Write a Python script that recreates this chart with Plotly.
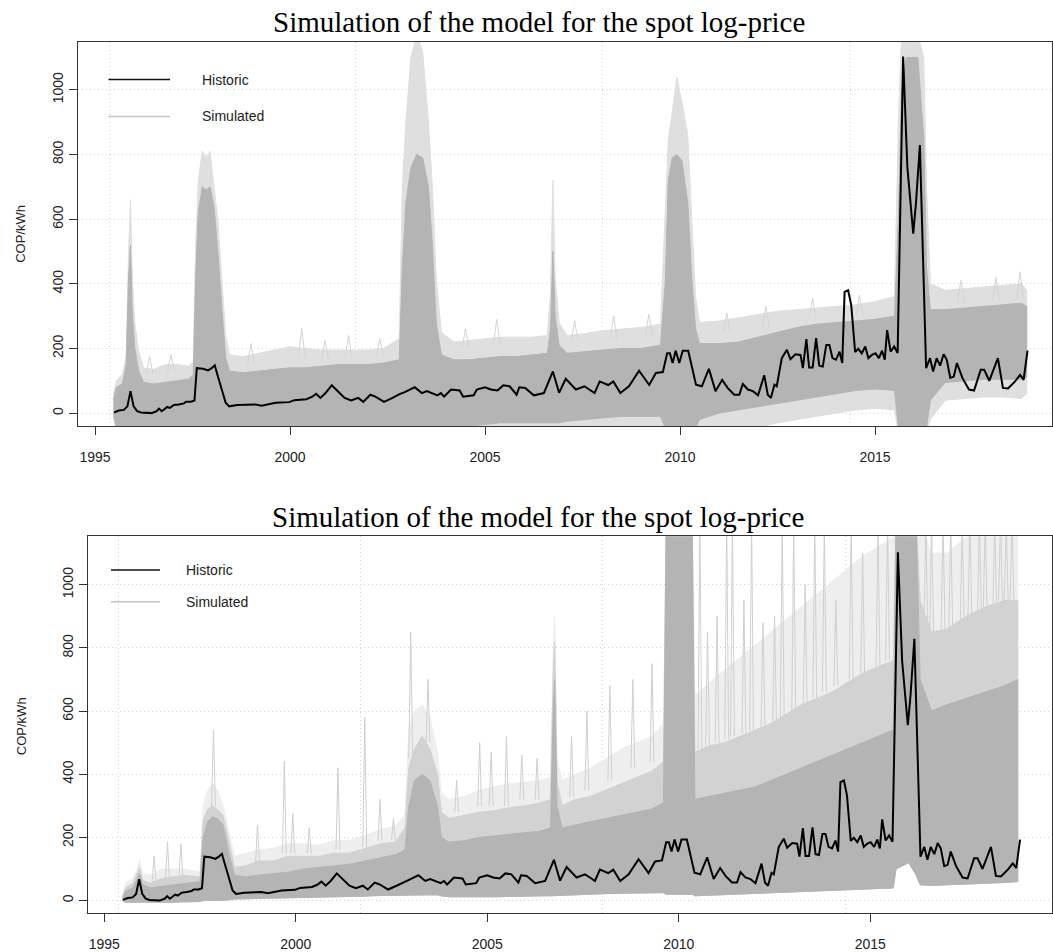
import plotly.graph_objects as go

# ---------------- data ----------------
hist_year = [1995.49, 1995.61, 1995.74, 1995.83, 1995.91, 1995.99, 1996.08, 1996.18, 1996.45, 1996.58,
             1996.64, 1996.71, 1996.78, 1996.85, 1996.92, 1997.02, 1997.15, 1997.28, 1997.33, 1997.46,
             1997.55, 1997.61, 1997.77, 1997.90, 1997.99, 1998.07, 1998.15, 1998.26, 1998.35, 1998.44,
             1998.65, 1999.10, 1999.27, 1999.63, 1999.98, 2000.11, 2000.25, 2000.42, 2000.56, 2000.67,
             2000.78, 2000.91, 2001.07, 2001.22, 2001.40, 2001.57, 2001.75, 2001.88, 2002.06, 2002.19,
             2002.41, 2002.63, 2002.81, 2002.94, 2003.20, 2003.38, 2003.51, 2003.78, 2003.87, 2003.95,
             2004.13, 2004.35, 2004.44, 2004.71, 2004.79, 2005.00, 2005.15, 2005.32, 2005.47, 2005.63,
             2005.81, 2005.88, 2006.03, 2006.25, 2006.51, 2006.74, 2006.90, 2007.07, 2007.33, 2007.55,
             2007.68, 2007.81, 2007.94, 2008.16, 2008.29, 2008.47, 2008.69, 2008.95, 2009.21, 2009.38,
             2009.56, 2009.67, 2009.74, 2009.81, 2009.89, 2009.98, 2010.07, 2010.21, 2010.41, 2010.56,
             2010.74, 2010.91, 2011.08, 2011.22, 2011.39, 2011.52, 2011.61, 2011.74, 2011.87, 2012.00,
             2012.16, 2012.25, 2012.33, 2012.42, 2012.48, 2012.61, 2012.74, 2012.83, 2012.96, 2013.09,
             2013.15, 2013.24, 2013.31, 2013.40, 2013.49, 2013.57, 2013.66, 2013.75, 2013.83, 2013.91,
             2014.00, 2014.09, 2014.16, 2014.22, 2014.31, 2014.39, 2014.49, 2014.57, 2014.66, 2014.75,
             2014.83, 2014.92, 2015.01, 2015.10, 2015.18, 2015.25, 2015.31, 2015.40, 2015.49, 2015.58,
             2015.72, 2015.83, 2015.98, 2016.05, 2016.15, 2016.31, 2016.41, 2016.49, 2016.58, 2016.67,
             2016.76, 2016.84, 2016.93, 2017.02, 2017.10, 2017.24, 2017.41, 2017.54, 2017.71, 2017.80,
             2017.93, 2018.06, 2018.15, 2018.28, 2018.41, 2018.59, 2018.72, 2018.81, 2018.91]
hist_value = [2, 8, 10, 21, 68, 21, 6, 2, 0, 6,
              14, 6, 12, 19, 16, 25, 27, 30, 35, 35,
              39, 139, 137, 132, 139, 148, 114, 68, 32, 21,
              25, 27, 23, 32, 34, 40, 42, 43, 50, 60,
              47, 62, 86, 68, 47, 39, 47, 35, 57, 51,
              35, 47, 59, 65, 80, 62, 68, 55, 62, 51,
              73, 70, 51, 55, 73, 80, 73, 70, 86, 83,
              57, 80, 78, 55, 62, 129, 63, 106, 73, 83,
              73, 62, 98, 87, 98, 62, 83, 131, 87, 124,
              127, 185, 185, 155, 193, 155, 193, 193, 88, 83,
              137, 68, 103, 78, 57, 57, 90, 73, 68, 55,
              117, 57, 47, 88, 83, 170, 196, 167, 182, 180,
              139, 229, 141, 141, 232, 147, 144, 211, 211, 170,
              165, 190, 155, 375, 380, 334, 189, 199, 185, 206,
              170, 180, 185, 170, 193, 165, 257, 190, 206, 186,
              1103, 760, 555, 650, 829, 139, 170, 129, 170, 147,
              182, 165, 109, 113, 155, 109, 73, 70, 134, 134,
              100, 139, 170, 78, 76, 98, 118, 103, 193]

# Top panel: envelope of the simulated paths (light = sparse lines, dense = solid mass)
top_year = [1995.47, 1995.55, 1995.70, 1995.80, 1995.86, 1995.91, 1995.95, 1996.02, 1996.12, 1996.25,
            1996.50, 1996.80, 1997.10, 1997.40, 1997.52, 1997.58, 1997.65, 1997.75, 1997.85, 1997.95,
            1998.05, 1998.15, 1998.25, 1998.35, 1998.45, 1998.80, 1999.20, 1999.60, 2000.00, 2000.40,
            2000.80, 2001.20, 2001.60, 2002.00, 2002.40, 2002.80, 2002.88, 2002.97, 2003.10, 2003.25,
            2003.40, 2003.55, 2003.65, 2003.75, 2003.88, 2004.20, 2004.60, 2005.00, 2005.40, 2005.80,
            2006.20, 2006.60, 2006.68, 2006.74, 2006.80, 2006.90, 2007.10, 2007.50, 2008.00, 2008.50,
            2009.00, 2009.50, 2009.62, 2009.70, 2009.80, 2009.92, 2010.05, 2010.20, 2010.30, 2010.40,
            2010.50, 2011.00, 2011.50, 2012.00, 2012.50, 2013.00, 2013.50, 2014.00, 2014.50, 2015.00,
            2015.50, 2015.60, 2015.68, 2015.80, 2016.10, 2016.25, 2016.32, 2016.42, 2016.80, 2017.30,
            2017.80, 2018.30, 2018.75, 2018.89]
top_lo_light = [-10, -60, -60, -60, -60, -60, -60, -60, -60, -60,
                -60, -60, -60, -60, -60, -60, -60, -60, -60, -60,
                -60, -60, -60, -60, -60, -60, -60, -60, -60, -60,
                -60, -60, -60, -60, -60, -60, -60, -60, -60, -60,
                -60, -60, -60, -60, -60, -60, -60, -60, -60, -60,
                -60, -60, -60, -60, -60, -60, -60, -60, -60, -60,
                -60, -60, -60, -60, -60, -60, -60, -60, -60, -60,
                -60, -60, -60, -45, -30, -20, -10, 0, 10, 15,
                10, -60, -60, -60, -60, -60, -60, -20, 40, 45,
                50, 50, 45, 60]
top_lo_dense = [-5, -45, -45, -45, -45, -45, -45, -45, -45, -45,
                -45, -45, -45, -45, -45, -45, -45, -45, -45, -45,
                -45, -45, -45, -45, -45, -45, -45, -45, -45, -45,
                -45, -45, -45, -45, -45, -45, -45, -45, -45, -45,
                -45, -45, -45, -45, -45, -40, -40, -35, -30, -30,
                -30, -30, -30, -30, -30, -30, -25, -20, -15, -10,
                -10, -10, -45, -45, -45, -45, -45, -45, -45, -45,
                -20, 0, 10, 20, 30, 40, 50, 60, 70, 75,
                70, -45, -45, -45, -45, -45, -45, 40, 95, 100,
                105, 105, 105, 110]
top_hi_dense = [40, 80, 90, 150, 420, 520, 330, 200, 130, 95,
                90, 95, 100, 105, 120, 420, 620, 700, 690, 700,
                640, 500, 330, 170, 130, 125, 130, 135, 140, 140,
                145, 150, 150, 150, 155, 165, 450, 650, 760, 800,
                790, 700, 520, 280, 180, 165, 165, 170, 175, 175,
                180, 185, 260, 500, 300, 210, 185, 190, 195, 200,
                200, 210, 400, 720, 790, 800, 780, 650, 420, 260,
                215, 215, 220, 235, 250, 265, 275, 280, 285, 290,
                300, 600, 1000, 1100, 1100, 850, 450, 320, 320, 325,
                330, 335, 340, 330]
top_hi_light = [60, 100, 120, 180, 500, 660, 450, 280, 190, 140,
                135, 150, 150, 145, 160, 520, 720, 810, 790, 810,
                700, 600, 420, 240, 180, 175, 185, 195, 205, 200,
                195, 195, 195, 195, 200, 230, 700, 900, 1100, 1170,
                1120, 900, 700, 420, 250, 220, 225, 230, 235, 235,
                235, 240, 380, 720, 420, 280, 240, 245, 255, 260,
                265, 275, 600, 850, 930, 1040, 960, 860, 600, 360,
                280, 285, 295, 305, 315, 320, 325, 330, 335, 345,
                360, 900, 1170, 1170, 1170, 1100, 700, 400, 380, 385,
                390, 395, 400, 380]

# Individual simulated excursions poking out of the top-panel band
top_spike_year = [1996.40, 1996.95, 1999.00, 2000.30, 2000.90, 2001.50, 2002.30, 2004.50, 2005.30, 2007.30,
                  2008.30, 2009.20, 2011.20, 2012.20, 2013.40, 2014.60, 2017.20, 2018.10, 2018.72]
top_spike_peak = [175, 180, 215, 262, 225, 240, 230, 260, 290, 285,
                  300, 305, 310, 330, 355, 365, 410, 420, 437]
top_spike_base = [120, 130, 150, 170, 165, 170, 175, 200, 210, 220,
                  230, 240, 250, 265, 290, 300, 340, 345, 350]

# Bottom panel: envelope of the simulated paths
bot_year = [1995.47, 1995.55, 1995.75, 1995.85, 1995.92, 1996.00, 1996.20, 1996.50, 1996.80, 1997.10,
            1997.50, 1997.58, 1997.70, 1997.83, 1997.95, 1998.10, 1998.25, 1998.40, 1998.70, 1999.00,
            1999.40, 1999.80, 2000.20, 2000.60, 2001.00, 2001.40, 2001.80, 2002.20, 2002.60, 2002.85,
            2002.95, 2003.10, 2003.30, 2003.50, 2003.70, 2003.80, 2004.00, 2004.40, 2004.80, 2005.20,
            2005.60, 2006.00, 2006.40, 2006.65, 2006.72, 2006.76, 2006.82, 2006.95, 2007.30, 2007.70,
            2008.10, 2008.50, 2008.90, 2009.30, 2009.60, 2009.67, 2010.35, 2010.42, 2010.80, 2011.20,
            2011.60, 2012.00, 2012.40, 2012.80, 2013.20, 2013.60, 2014.00, 2014.40, 2014.80, 2015.20,
            2015.60, 2015.67, 2016.00, 2016.20, 2016.30, 2016.60, 2017.00, 2017.50, 2018.00, 2018.50,
            2018.85]
bot_lo = [0, -5, -5, -5, -5, -5, -5, -5, -5, -5,
          -3, 0, 0, 0, 0, 0, 2, 5, 5, 6,
          7, 8, 10, 10, 12, 13, 14, 16, 18, 18,
          18, 18, 18, 18, 18, 15, 12, 12, 12, 12,
          13, 15, 15, 15, 15, 15, 15, 15, 18, 20,
          22, 23, 24, 25, 25, 20, 20, 15, 15, 17,
          19, 21, 23, 26, 28, 30, 32, 34, 36, 38,
          40, 100, 120, 80, 50, 48, 50, 52, 55, 57,
          60]
bot_hi_dense = [5, 30, 40, 70, 85, 50, 40, 45, 50, 55,
                60, 200, 250, 265, 260, 240, 150, 80, 75, 80,
                85, 90, 100, 105, 110, 115, 125, 135, 145, 160,
                300, 380, 400, 380, 300, 200, 185, 190, 200, 205,
                210, 215, 220, 230, 600, 700, 300, 230, 240, 250,
                260, 270, 280, 290, 310, 1200, 1200, 320, 330, 340,
                350, 360, 380, 400, 420, 440, 460, 480, 500, 520,
                540, 1200, 1200, 1200, 700, 600, 620, 640, 660, 680,
                700]
bot_hi_mid = [8, 40, 55, 85, 105, 65, 55, 70, 75, 80,
              75, 250, 290, 300, 290, 270, 190, 105, 110, 125,
              125, 140, 140, 140, 150, 150, 165, 180, 185, 230,
              420, 480, 520, 480, 400, 280, 260, 270, 280, 285,
              295, 300, 310, 320, 720, 820, 380, 300, 320, 330,
              350, 370, 390, 410, 440, 1200, 1200, 470, 490, 500,
              520, 540, 560, 590, 620, 640, 660, 690, 720, 740,
              760, 1200, 1200, 1200, 950, 850, 860, 900, 930, 950,
              950]
bot_hi_light = [10, 55, 70, 100, 130, 85, 80, 100, 100, 100,
                90, 300, 350, 370, 350, 300, 220, 140, 150, 160,
                165, 180, 180, 175, 190, 190, 205, 225, 235, 270,
                540, 600, 620, 580, 470, 340, 320, 330, 350, 360,
                370, 375, 380, 390, 800, 900, 450, 380, 400, 420,
                450, 480, 500, 520, 560, 1200, 1200, 650, 690, 730,
                770, 810, 850, 890, 930, 970, 1010, 1050, 1090, 1120,
                1150, 1200, 1200, 1200, 1200, 1100, 1100, 1150, 1200, 1200,
                1200]

# Individual extreme simulated excursions visible in the bottom panel
spike_year = [1996.30, 1996.65, 1997.00, 1997.85, 1999.00, 1999.70, 1999.92, 2000.35, 2001.10, 2001.80,
              2002.20, 2002.55, 2003.00, 2003.45, 2004.20, 2004.80, 2005.10, 2005.50, 2005.90, 2006.30,
              2007.20, 2007.60, 2008.20, 2008.80, 2009.30, 2010.55, 2010.75, 2011.00, 2011.25, 2011.40,
              2011.70, 2011.90, 2012.20, 2012.50, 2012.70, 2013.00, 2013.30, 2013.55, 2013.80, 2014.10,
              2014.50, 2014.80, 2015.20, 2015.45, 2016.45, 2016.60, 2016.90, 2017.10, 2017.40, 2017.60,
              2017.85, 2018.00, 2018.25, 2018.40, 2018.55, 2018.70]
spike_peak = [140, 185, 180, 540, 240, 440, 275, 230, 420, 580,
              320, 260, 850, 700, 380, 500, 470, 520, 460, 450,
              520, 600, 680, 700, 750, 1200, 850, 900, 1200, 1200,
              950, 1200, 880, 900, 1200, 1200, 1000, 1200, 1200, 950,
              1200, 1100, 1200, 1200, 1200, 1200, 1200, 1200, 1200, 1200,
              1200, 1200, 1200, 1200, 1200, 1200]
spike_base = [60, 70, 80, 300, 120, 150, 150, 150, 160, 170,
              190, 190, 450, 500, 280, 300, 300, 300, 320, 320,
              330, 350, 380, 420, 440, 480, 490, 500, 510, 520,
              530, 540, 550, 560, 580, 600, 620, 640, 660, 680,
              700, 720, 740, 760, 850, 850, 860, 860, 880, 900,
              910, 920, 930, 950, 950, 950]

year_ticks = [1995, 2000, 2005, 2010, 2015]
value_ticks = [0, 200, 400, 600, 800, 1000]
grid_years = [1995.36, 2001.69, 2008.02, 2014.36]
title_text = "Simulation of the model for the spot log-price"

# ---------------- layout helpers ----------------
W, H = 1053, 952
def px(x):
    return x / W
def py(y):
    return 1 - y / H

DENSE = "#b4b4b4"
MID = "#d2d2d2"
LIGHT = "#eeeeee"
SANS = "Liberation Sans, Arial, sans-serif"
SERIF = "Liberation Serif, Times New Roman, serif"
GRID = "#d2d2d2"
DOTS = "1px,3px"

fig = go.Figure()

def band(xa, ya, years, lo, hi, color):
    fig.add_trace(go.Scatter(
        x=list(years) + list(years)[::-1],
        y=list(hi) + list(lo)[::-1],
        fill="toself", fillcolor=color, mode="lines",
        line=dict(color=color, width=1),
        xaxis=xa, yaxis=ya, hoverinfo="skip", showlegend=False))

def spikes(xa, ya, years, peaks, bases, color, hw):
    for sy, sp, sb in zip(years, peaks, bases):
        fig.add_trace(go.Scatter(x=[sy - hw, sy, sy + hw], y=[sb, sp, sb], mode="lines",
                                 line=dict(color=color, width=1), xaxis=xa, yaxis=ya,
                                 hoverinfo="skip", showlegend=False))

# top panel
band("x", "y", top_year, top_lo_light, top_hi_light, "#dfdfdf")
spikes("x", "y", top_spike_year, top_spike_peak, top_spike_base, "#d4d4d4", 0.09)
band("x", "y", top_year, top_lo_dense, top_hi_dense, DENSE)
fig.add_trace(go.Scatter(x=hist_year, y=hist_value, mode="lines",
                         line=dict(color="black", width=2), xaxis="x", yaxis="y", showlegend=False))

# bottom panel
band("x2", "y2", bot_year, bot_lo, bot_hi_light, LIGHT)
spikes("x2", "y2", spike_year, spike_peak, spike_base, "#cfcfcf", 0.05)
band("x2", "y2", bot_year, bot_lo, bot_hi_mid, MID)
band("x2", "y2", bot_year, bot_lo, bot_hi_dense, DENSE)
fig.add_trace(go.Scatter(x=hist_year, y=hist_value, mode="lines",
                         line=dict(color="black", width=2), xaxis="x2", yaxis="y2", showlegend=False))

def xaxis_cfg(domain, rng):
    return dict(domain=domain, range=rng, tickmode="array", tickvals=year_ticks,
                ticktext=[str(v) for v in year_ticks], ticks="outside", ticklen=8,
                tickcolor="#333", showline=True, mirror=True, linecolor="#333", linewidth=1,
                showgrid=False, zeroline=False, ticklabelstandoff=10,
                tickfont=dict(family=SANS, size=14, color="#222"),
                minor=dict(tickmode="array", tickvals=grid_years, showgrid=True,
                           griddash=DOTS, gridcolor=GRID, gridwidth=1, ticks=""))

def yaxis_cfg(domain, rng, anchor):
    return dict(domain=domain, range=rng, anchor=anchor, tickmode="array", tickvals=value_ticks,
                ticktext=[str(v) for v in value_ticks], tickangle=-90, ticks="outside", ticklen=8,
                tickcolor="#333", showline=True, mirror=True, linecolor="#333", linewidth=1,
                showgrid=True, griddash=DOTS, gridcolor=GRID, zeroline=False,
                ticklabelstandoff=0, tickfont=dict(family=SANS, size=14, color="#222"))

fig.update_layout(
    width=W, height=H, margin=dict(l=0, r=0, t=0, b=0),
    paper_bgcolor="white", plot_bgcolor="white", showlegend=False,
    xaxis=dict(anchor="y", **xaxis_cfg([px(77.5), px(1052)], [1994.551, 2019.538])),
    yaxis=yaxis_cfg([py(428.5), py(42)], [-40.6, 1148.6], "x"),
    xaxis2=dict(anchor="y2", **xaxis_cfg([px(87.5), px(1052)], [1994.561, 2019.744])),
    yaxis2=yaxis_cfg([py(918.3), py(539)], [-40.9, 1153.7], "x2"),
)

shapes = []
annotations = []
# legend backgrounds (hide grid behind legend)
for (x0, x1, y0, y1) in [(78.5, 365, 43, 150), (88.5, 315, 540, 640)]:
    shapes.append(dict(type="rect", xref="paper", yref="paper", x0=px(x0), x1=px(x1),
                       y0=py(y1), y1=py(y0), fillcolor="white", line=dict(width=0), layer="between"))

# legends
for (lx0, lx1, tx, yh, ys) in [(108.5, 170, 200.4, 80, 117), (111, 160, 183.5, 573, 605)]:
    shapes.append(dict(type="line", xref="paper", yref="paper", x0=px(lx0), x1=px(lx1),
                       y0=py(yh), y1=py(yh), line=dict(color="#111", width=1.5)))
    shapes.append(dict(type="line", xref="paper", yref="paper", x0=px(lx0), x1=px(lx1),
                       y0=py(ys), y1=py(ys), line=dict(color="#c4c4c4", width=1.5)))
    annotations.append(dict(text="Historic", xref="paper", yref="paper", x=px(tx), y=py(yh),
                            xanchor="left", yanchor="middle", showarrow=False,
                            font=dict(family=SANS, size=14, color="#222")))
    annotations.append(dict(text="Simulated", xref="paper", yref="paper", x=px(tx), y=py(ys),
                            xanchor="left", yanchor="middle", showarrow=False,
                            font=dict(family=SANS, size=14, color="#222")))

# titles
for (cx, cy) in [(539, 22), (538, 520)]:
    annotations.append(dict(text=title_text, xref="paper", yref="paper", x=px(cx), y=py(cy),
                            xanchor="center", yanchor="middle", showarrow=False,
                            font=dict(family=SERIF, size=29, color="black")))
# y axis titles
for (cx, cy) in [(21, 235), (21, 730)]:
    annotations.append(dict(text="COP/kWh", xref="paper", yref="paper", x=px(cx), y=py(cy),
                            xanchor="center", yanchor="middle", textangle=-90, showarrow=False,
                            font=dict(family=SANS, size=13, color="#222")))

fig.update_layout(shapes=shapes, annotations=annotations)
fig.write_html("out.html")
